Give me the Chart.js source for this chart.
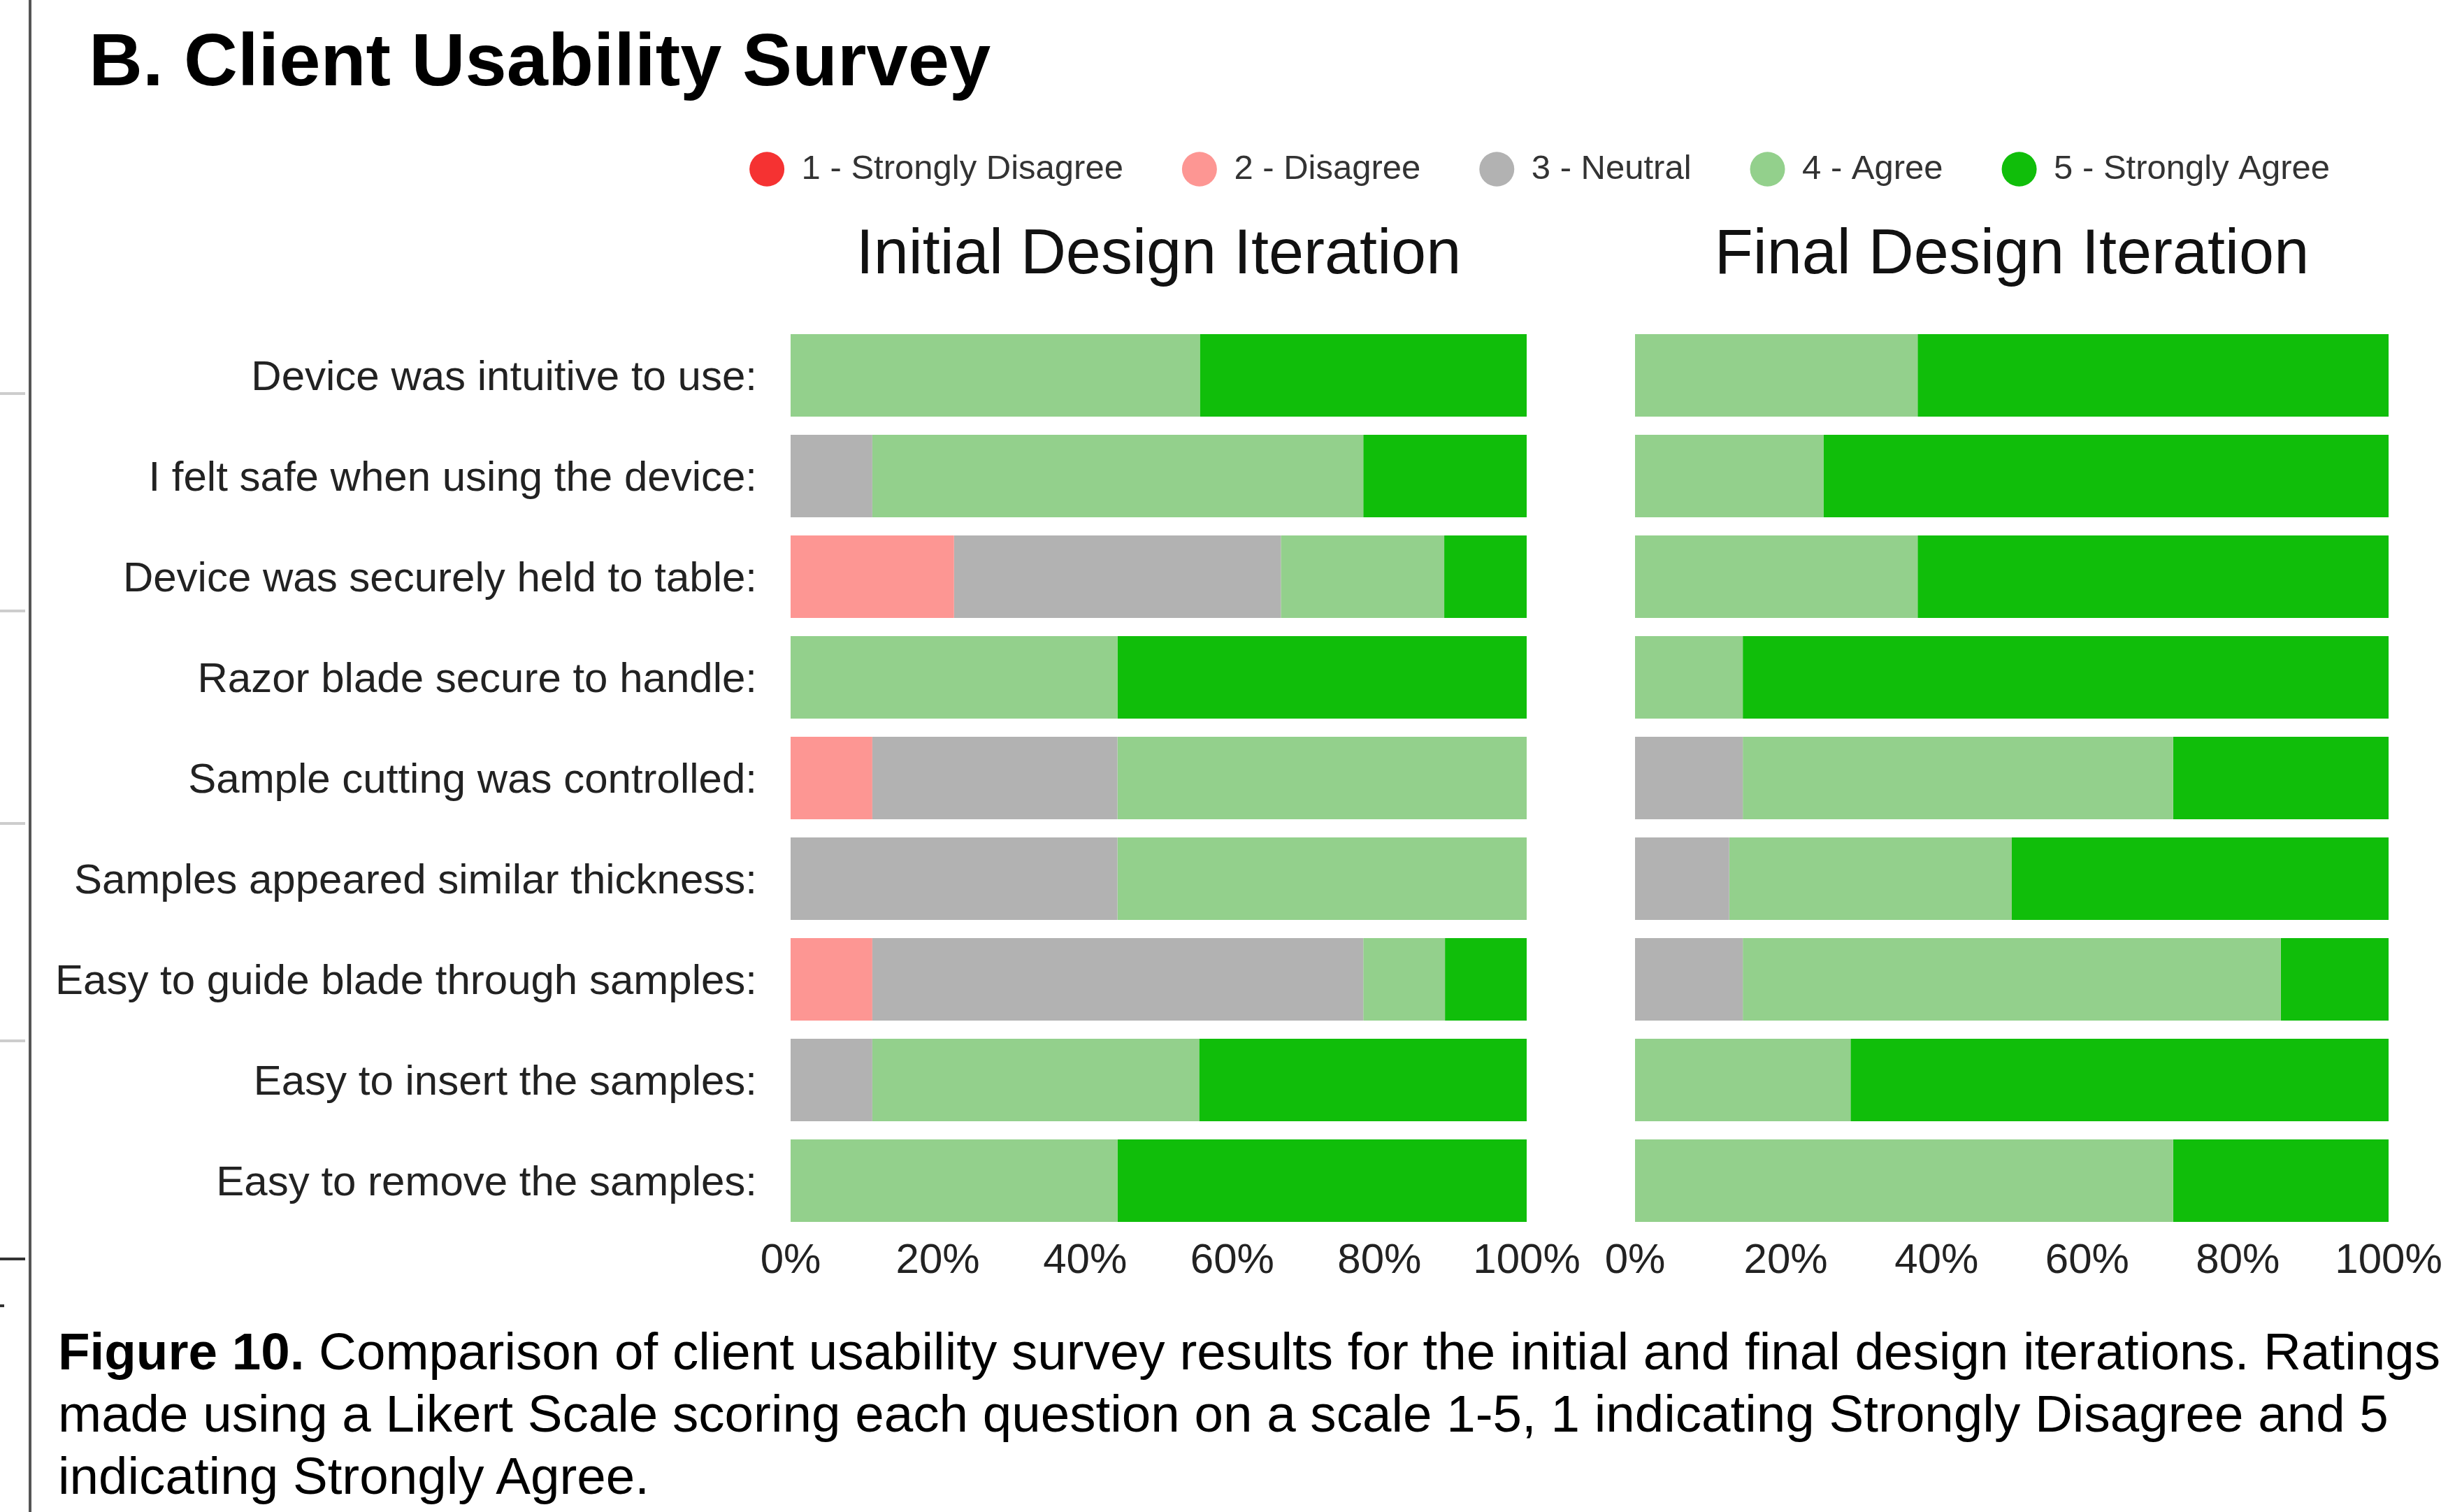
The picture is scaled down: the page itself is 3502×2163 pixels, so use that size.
<!DOCTYPE html>
<html>
<head>
<meta charset="utf-8">
<script src="https://cdn.jsdelivr.net/npm/chart.js@4.4.1/dist/chart.umd.min.js"></script>
<style>
html, body { margin: 0; padding: 0; background: #fff; }
body { width: 3502px; height: 2163px; position: relative; overflow: hidden;
       font-family: 'Liberation Sans', Arial, Helvetica, sans-serif; }
#c { position: absolute; left: 0; top: 0; width: 3510px; height: 1847px; }
.title { position: absolute; left: 127px; top: 33px; font-size: 106.5px; line-height: 106.5px;
         font-weight: bold; color: #000; white-space: nowrap; }
.caption { position: absolute; left: 83px; top: 1889px; font-size: 74.6px; line-height: 89px;
           color: #000; white-space: nowrap; }
.vline { position: absolute; left: 41px; top: 0; width: 4px; height: 2163px; background: #555; }
.tk { position: absolute; left: 0; width: 36px; height: 4px; background: #cdcdcd; }
.tk.dark { background: #333; }
</style>
</head>
<body>
<div class="vline"></div>
<div class="tk" style="top:561px"></div>
<div class="tk" style="top:872px"></div>
<div class="tk" style="top:1176px"></div>
<div class="tk" style="top:1487px"></div>
<div class="tk dark" style="top:1799px"></div>
<div class="tk dark" style="top:1866px;width:6px"></div>

<div class="title">B. Client Usability Survey</div>
<canvas id="c" width="3510" height="1847"></canvas>
<div class="caption"><b>Figure 10.</b> Comparison of client usability survey results for the initial and final design iterations. Ratings<br>made using a Likert Scale scoring each question on a scale 1-5, 1 indicating Strongly Disagree and 5<br>indicating Strongly Agree.</div>

<script>
// ---------- data ----------
const questions = [
  'Device was intuitive to use:',
  'I felt safe when using the device:',
  'Device was securely held to table:',
  'Razor blade secure to handle:',
  'Sample cutting was controlled:',
  'Samples appeared similar thickness:',
  'Easy to guide blade through samples:',
  'Easy to insert the samples:',
  'Easy to remove the samples:'
];
const ratingLabels = ['1 - Strongly Disagree', '2 - Disagree', '3 - Neutral', '4 - Agree', '5 - Strongly Agree'];
const panelTitles = ['Initial Design Iteration', 'Final Design Iteration'];
const percentTicks = [0, 20, 40, 60, 80, 100];

// Initial design iteration (% of responses)
const initialStronglyDisagree = [0, 0, 0, 0, 0, 0, 0, 0, 0];
const initialDisagree         = [0, 0, 22.2, 0, 11.1, 0, 11.1, 0, 0];
const initialNeutral          = [0, 11.1, 44.4, 0, 33.3, 44.4, 66.7, 11.1, 0];
const initialAgree            = [55.6, 66.7, 22.2, 44.4, 55.6, 55.6, 11.1, 44.4, 44.4];
const initialStronglyAgree    = [44.4, 22.2, 11.2, 55.6, 0, 0, 11.1, 44.5, 55.6];

// Final design iteration (% of responses)
const finalStronglyDisagree = [0, 0, 0, 0, 0, 0, 0, 0, 0];
const finalDisagree         = [0, 0, 0, 0, 0, 0, 0, 0, 0];
const finalNeutral          = [0, 0, 0, 0, 14.3, 12.5, 14.3, 0, 0];
const finalAgree            = [37.5, 25, 37.5, 14.3, 57.1, 37.5, 71.4, 28.6, 71.4];
const finalStronglyAgree    = [62.5, 75, 62.5, 85.7, 28.6, 50, 14.3, 71.4, 28.6];

// ---------- styles ----------
const ratingColors = ['#f53232', '#fd9693', '#b2b2b2', '#93d08c', '#10be0a'];
const FONT = "'Liberation Sans', Arial, Helvetica, sans-serif";

const initialSeries = [initialStronglyDisagree, initialDisagree, initialNeutral, initialAgree, initialStronglyAgree];
const finalSeries = [finalStronglyDisagree, finalDisagree, finalNeutral, finalAgree, finalStronglyAgree];

const datasets = [];
initialSeries.forEach((d, i) => datasets.push({
  label: ratingLabels[i], data: d, backgroundColor: ratingColors[i], borderWidth: 0,
  xAxisID: 'xL', yAxisID: 'y', stack: 's'
}));
finalSeries.forEach((d, i) => datasets.push({
  label: ratingLabels[i], data: d, backgroundColor: ratingColors[i], borderWidth: 0,
  xAxisID: 'xR', yAxisID: 'y', stack: 's'
}));

const noGrid = { display: false, drawTicks: false };

function percentAxis(stackWeight, weight) {
  return {
    type: 'linear', position: 'bottom', stack: 'bottomRow', stackWeight, weight,
    stacked: true, min: percentTicks[0], max: percentTicks[percentTicks.length - 1],
    grid: noGrid, border: { display: false },
    afterBuildTicks: s => { s.ticks = percentTicks.map(v => ({ value: v })); },
    ticks: { padding: 7, maxRotation: 0, minRotation: 0, autoSkip: false,
             color: '#222', font: { size: 60, family: FONT }, callback: v => v + '%' }
  };
}
function spacerAxis(position, stack, stackWeight, weight) {
  return {
    type: 'linear', position, stack, stackWeight, weight, min: 0, max: 1,
    grid: noGrid, border: { display: false }, ticks: { display: false }
  };
}
function titleAxis(text, stackWeight, weight) {
  return {
    type: 'linear', position: 'top', stack: 'topRow', stackWeight, weight, min: 0, max: 1,
    grid: noGrid, border: { display: false }, ticks: { display: false },
    title: { display: true, text, color: '#111', font: { size: 90, family: FONT },
             padding: { top: 36, bottom: 44.5 } }
  };
}

new Chart(document.getElementById('c'), {
  type: 'bar',
  data: { labels: questions, datasets },
  options: {
    indexAxis: 'y',
    responsive: false,
    animation: false,
    devicePixelRatio: 1,
    layout: { padding: { left: 0, right: 93, top: 133.5, bottom: 0 } },
    datasets: { bar: { barPercentage: 0.82, categoryPercentage: 1.0 } },
    scales: {
      y: {
        type: 'category', position: 'left', stacked: true, offset: true,
        grid: noGrid, border: { display: false },
        afterFit: s => { s.width = 1131; },
        ticks: { autoSkip: false, padding: 48, labelOffset: 4, color: '#222',
                 font: { size: 60, family: FONT } }
      },
      xL: percentAxis(1053, 1),
      xGap: spacerAxis('bottom', 'bottomRow', 155, 2),
      xR: percentAxis(1078, 3),
      tL: titleAxis(panelTitles[0], 1053, 3),
      tGap: spacerAxis('top', 'topRow', 155, 2),
      tR: titleAxis(panelTitles[1], 1078, 1)
    },
    plugins: {
      tooltip: { enabled: false },
      title: { display: false },
      legend: {
        display: true, position: 'top', align: 'end', fullSize: true,
        labels: {
          filter: item => item.datasetIndex < ratingLabels.length,
          usePointStyle: true, pointStyle: 'circle', pointStyleWidth: 50, boxHeight: 35,
          padding: 84, color: '#333', font: { size: 49, family: FONT }
        }
      }
    }
  }
});
</script>
</body>
</html>
